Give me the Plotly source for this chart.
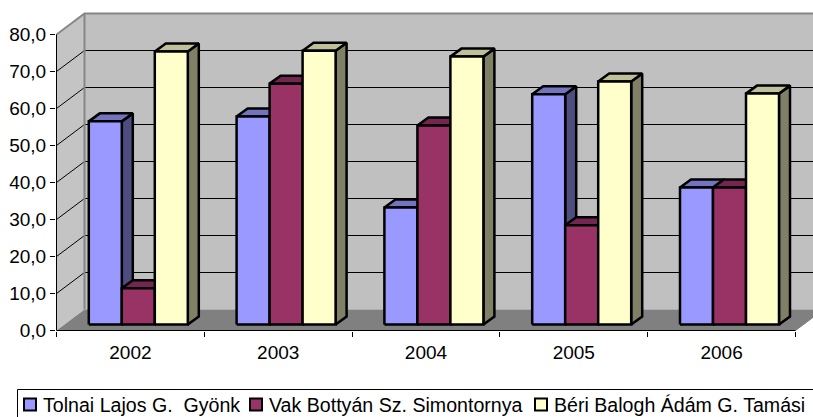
import plotly.graph_objects as go

years = ["2002", "2003", "2004", "2005", "2006"]
series_names = ["Tolnai Lajos G.\u00a0 Gyönk", "Vak Bottyán Sz. Simontornya", "Béri Balogh Ádám G. Tamási"]
tolnai = [54.9, 56.2, 31.6, 62.2, 37.0]
vak = [9.8, 65.1, 53.8, 26.8, 37.0]
beri = [73.8, 74.0, 72.4, 65.7, 62.4]
y_ticks = [0, 10, 20, 30, 40, 50, 60, 70, 80]

W, H = 813, 417
L, B = 56, 86
CAT_PX = 147.8
VAL_PX = 3.7
FONT = "Liberation Sans, Arial, sans-serif"

front_colors = ["#9999FF", "#993366", "#FFFFCC"]
side_colors = ["#4D4D80", "#4D1A33", "#808066"]
top_colors = ["#7373BF", "#732650", "#BFBF99"]

# oblique projection offsets, in data units
WALL_DX, WALL_DY = 28 / CAT_PX, 21 / VAL_PX
BAR_DX0, BAR_DY0 = 8 / CAT_PX, 6 / VAL_PX
BAR_DX, BAR_DY = 11 / CAT_PX, 8 / VAL_PX
BAR_W = 33 / CAT_PX
GROUP_START = 24.3 / CAT_PX
EDGE = 2.5

n = len(years)
series = [tolnai, vak, beri]
fig = go.Figure()


def poly(xs, ys, fill, line="rgba(0,0,0,0)", width=0):
    fig.add_trace(go.Scatter(x=xs + xs[:1], y=ys + ys[:1], mode="lines", fill="toself", fillcolor=fill,
                             line=dict(color=line, width=width), showlegend=False, hoverinfo="skip",
                             cliponaxis=False))


def seg(xs, ys, color, width):
    fig.add_trace(go.Scatter(x=xs, y=ys, mode="lines", line=dict(color=color, width=width),
                             showlegend=False, hoverinfo="skip", cliponaxis=False))


for s, vals in enumerate(series):
    xs = [i + GROUP_START + BAR_DX0 + (s + 0.5) * BAR_W for i in range(n)]
    fig.add_trace(go.Bar(x=xs, y=vals, base=[BAR_DY0] * n, width=BAR_W, name=series_names[s],
                         marker=dict(color=front_colors[s], line=dict(color="#000000", width=EDGE)),
                         hoverinfo="skip", showlegend=False))

top_v = y_ticks[-1]
right = n + 0.2
# walls
poly([WALL_DX, right, right, WALL_DX], [WALL_DY, WALL_DY, top_v + WALL_DY, top_v + WALL_DY], "#C0C0C0")
poly([0, WALL_DX, WALL_DX, 0], [0, WALL_DY, top_v + WALL_DY, top_v], "#C4C4C4")
poly([0, n, n + WALL_DX, WALL_DX], [0, 0, WALL_DY, WALL_DY], "#808080")
# gridlines
for v in y_ticks[1:-1]:
    seg([0, WALL_DX, right], [v, v + WALL_DY, v + WALL_DY], "#000000", 1)
# wall borders
seg([0, WALL_DX, right], [top_v, top_v + WALL_DY, top_v + WALL_DY], "#868686", 2)
seg([WALL_DX, WALL_DX], [WALL_DY, top_v + WALL_DY], "#868686", 2)
seg([n, n + WALL_DX], [0, WALL_DY], "#808080", 1)
# axes
seg([0, 0], [0, top_v], "#000000", 1)
seg([0, n], [0, 0], "#000000", 1)

# bars, painted left to right
for i in range(n):
    for s, vals in enumerate(series):
        v = vals[i] + BAR_DY0
        x0 = i + GROUP_START + BAR_DX0 + s * BAR_W
        x1 = x0 + BAR_W
        poly([x1, x1 + BAR_DX, x1 + BAR_DX, x1], [BAR_DY0, BAR_DY0 + BAR_DY, v + BAR_DY, v],
             side_colors[s], "#000000", EDGE)
        poly([x0, x1, x1 + BAR_DX, x0 + BAR_DX], [v, v, v + BAR_DY, v + BAR_DY],
             top_colors[s], "#000000", EDGE)
        poly([x0, x1, x1, x0], [BAR_DY0, BAR_DY0, v, v], front_colors[s], "#000000", EDGE)

plot_w = W - L
plot_h = H - B


def px(x):
    return (x - L) / plot_w


def py(y):
    return (plot_h - y) / plot_h


# legend box, swatches and labels
swatch_left = [24, 250, 535]
label_left = [42, 268, 553]
LEG_Y = 404.5
shapes = [dict(type="rect", xref="paper", yref="paper", x0=px(17.5), x1=px(W + 20), y0=py(H + 20), y1=py(389.5),
               line=dict(color="#000000", width=1), fillcolor="rgba(0,0,0,0)")]
annotations = []
for s, name in enumerate(series_names):
    shapes.append(dict(type="rect", xref="paper", yref="paper", x0=px(swatch_left[s]), x1=px(swatch_left[s] + 12),
                       y0=py(LEG_Y + 6), y1=py(LEG_Y - 6), fillcolor=front_colors[s],
                       line=dict(color="#000000", width=2)))
    annotations.append(dict(text=name, xref="paper", yref="paper", x=px(label_left[s]), y=py(LEG_Y), xanchor="left",
                            yanchor="middle", showarrow=False, borderpad=0, font=dict(size=19.6, family=FONT)))

fig.update_layout(
    width=W, height=H, margin=dict(l=L, r=0, t=0, b=B, pad=0), autosize=False,
    paper_bgcolor="#FFFFFF", plot_bgcolor="#FFFFFF", barmode="overlay", separators=", ",
    font=dict(family=FONT, size=19, color="#000000"), showlegend=False,
    xaxis=dict(range=[-0.5 / CAT_PX, (plot_w - 0.5) / CAT_PX], tickmode="array",
               tickvals=[i + 0.5 for i in range(n)], ticktext=years,
               ticks="outside", ticklen=4, tickcolor="rgba(0,0,0,0)", showgrid=False, zeroline=False, showline=False,
               tickfont=dict(size=19),
               minor=dict(tickmode="array", tickvals=list(range(n + 1)), ticks="outside", ticklen=5,
                          tickcolor="#000000", tickwidth=1, showgrid=False)),
    yaxis=dict(range=[-0.5 / VAL_PX, (plot_h - 0.5) / VAL_PX], tickmode="array", tickvals=y_ticks, tickformat=".1f",
               ticks="outside", ticklen=5, tickcolor="#000000", tickwidth=1, showgrid=False, zeroline=False,
               showline=False, tickfont=dict(size=19)),
    shapes=shapes, annotations=annotations,
)
fig.write_html("out.html", config={"displayModeBar": False}, post_script="document.body.style.margin='0';")
